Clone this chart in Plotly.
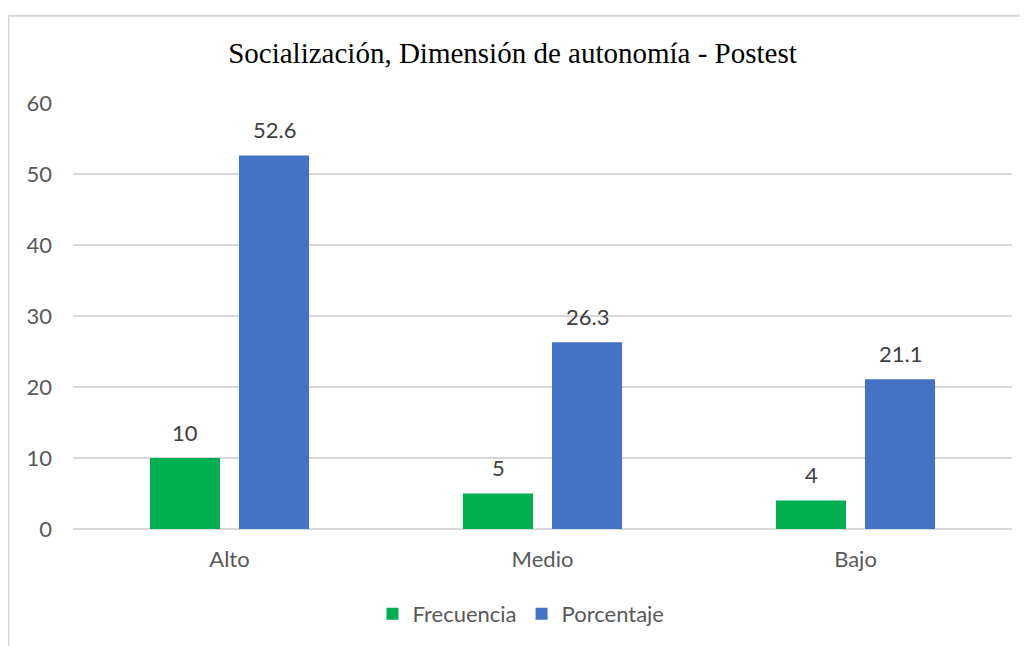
import plotly.graph_objects as go

categorias = ['Alto', 'Medio', 'Bajo']
frecuencia = [10, 5, 4]
porcentaje = [52.6, 26.3, 21.1]
y_ticks = [0, 10, 20, 30, 40, 50, 60]

C_GREEN = '#00b050'
C_BLUE = '#4472c4'
C_GRID = '#d9d9d9'
C_TEXT = '#595959'
C_LABEL = '#404040'

# the page body has an 8px margin, so the figure is drawn 8px smaller
FW, FH = 1020, 638
OFF = 8
# plot area (window pixels): left 73, right 1012, top 103, bottom 530
L, R, T, B = 73 - OFF, FW - (1012 - OFF), 103 - OFF, FH - (530 - OFF)
W, H = FW - L - R, FH - T - B


def px_x(x):
    return (x - OFF - L) / W


def px_y(y):
    return (FH - B - (y - OFF)) / H


fig = go.Figure()
fig.add_trace(go.Bar(
    x=categorias, y=frecuencia, name='Frecuencia',
    marker=dict(color=C_GREEN, line=dict(width=0)),
))
fig.add_trace(go.Bar(
    x=categorias, y=porcentaje, name='Porcentaje',
    marker=dict(color=C_BLUE, line=dict(width=0)),
))

# data labels above each bar
for vals, dx in ((frecuencia, -44.5), (porcentaje, 44.5)):
    for c, v in zip(categorias, vals):
        fig.add_annotation(x=c, y=v, xref='x', yref='y', text=f'{v}',
                           showarrow=False, xshift=dx, yshift=26,
                           yanchor='middle',
                           font=dict(size=22, color=C_LABEL))

# chart frame (only left and top edges visible in the crop)
fig.add_shape(type='line', xref='paper', yref='paper',
              x0=px_x(8.5), x1=px_x(8.5), y0=px_y(660), y1=px_y(15.5),
              line=dict(color=C_GRID, width=2))
fig.add_shape(type='line', xref='paper', yref='paper',
              x0=px_x(8.5), x1=px_x(1040), y0=px_y(15.5), y1=px_y(15.5),
              line=dict(color=C_GRID, width=2))

fig.update_layout(
    width=FW, height=FH,
    paper_bgcolor='white', plot_bgcolor='white',
    font=dict(family='Lato, Open Sans, sans-serif', color=C_TEXT, size=22),
    margin=dict(l=L, r=R, t=T, b=B),
    title=dict(text='Socialización, Dimensión de autonomía - Postest',
               font=dict(family='Liberation Serif, Times New Roman, serif',
                         size=29, color='#000000'),
               x=px_x(512.5), xanchor='center', xref='paper',
               y=1 - (53 - OFF) / FH, yanchor='middle'),
    barmode='group', bargap=0.431, bargroupgap=0.213,
    xaxis=dict(showgrid=False, showline=False, ticks='',
               tickfont=dict(size=22, color=C_TEXT), ticklabelstandoff=15),
    yaxis=dict(range=[0, 60], tickvals=y_ticks, showgrid=True,
               gridcolor=C_GRID, gridwidth=1.5, zeroline=True,
               zerolinecolor=C_GRID, zerolinewidth=1.5,
               tickfont=dict(size=22, color=C_TEXT), ticklabelstandoff=20),
    legend=dict(orientation='h', x=px_x(521), xanchor='center', y=px_y(614),
                yanchor='middle', font=dict(size=22, color=C_TEXT),
                traceorder='normal'),
)

fig.write_html('out.html')
